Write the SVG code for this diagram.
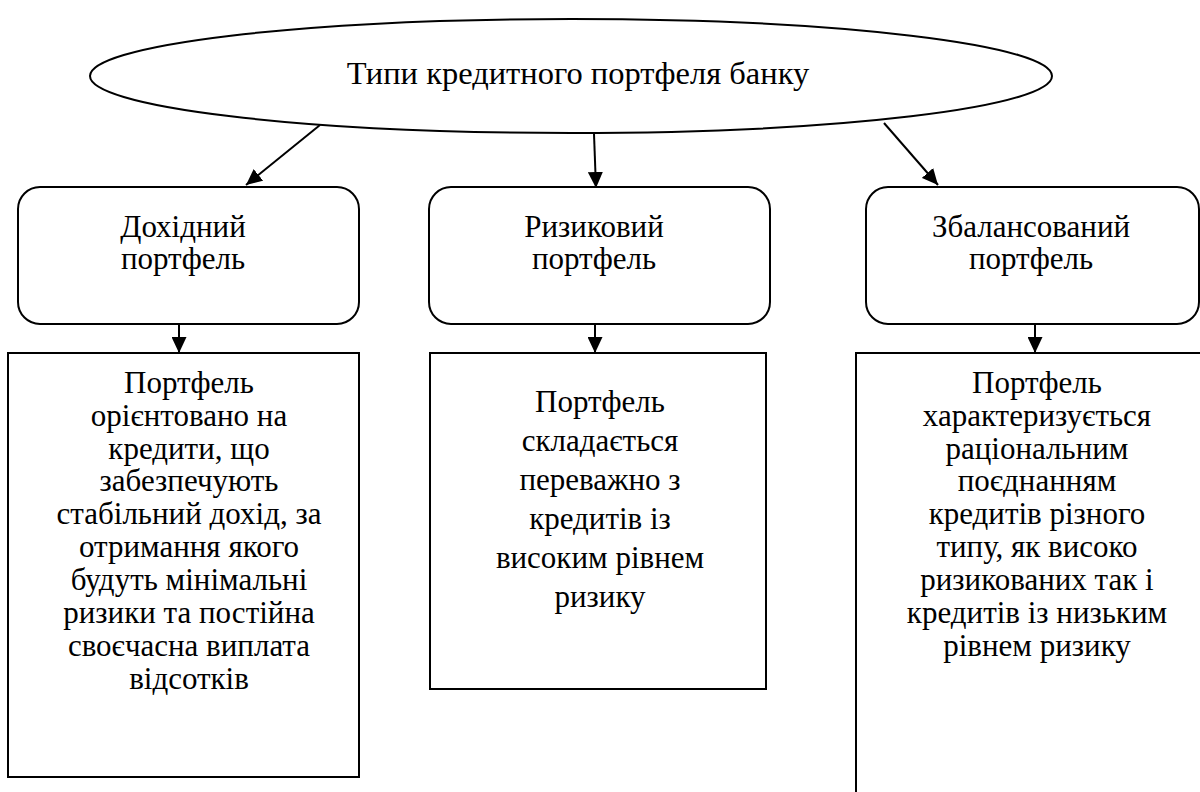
<svg xmlns="http://www.w3.org/2000/svg" width="1200" height="792" viewBox="0 0 1200 792" font-family="Liberation Serif, serif">
<defs>
<style>
.shape{fill:#fff;stroke:#000;stroke-width:2}
.t{font-size:31px;fill:#000;text-anchor:middle}
.title{font-size:32.5px}
.c{stroke:#000;stroke-width:2;fill:none;marker-end:url(#ah)}
</style>
<marker id="ah" markerWidth="16" markerHeight="15" refX="16" refY="7.5" orient="auto" markerUnits="userSpaceOnUse">
<path d="M0,0 L16,7.5 L0,15 Z" fill="#000"/>
</marker>
</defs>
<rect width="1200" height="792" fill="#fff"/>
<g id="connectors">
<line class="c" x1="320" y1="125" x2="246" y2="185"/>
<line class="c" x1="594" y1="134" x2="596" y2="188"/>
<line class="c" x1="884" y1="123" x2="938" y2="185"/>
<line class="c" x1="179" y1="324" x2="179" y2="353"/>
<line class="c" x1="595" y1="324" x2="595" y2="353"/>
<line class="c" x1="1035" y1="324" x2="1035" y2="353"/>
</g>
<g id="root">
<ellipse class="shape" cx="571" cy="76" rx="481" ry="57"/>
<text class="t title" x="578" y="84">Типи кредитного портфеля банку</text>
</g>
<g id="type1">
<rect class="shape" x="18" y="187" width="341" height="137" rx="22"/>
<text class="t" x="183" y="237">Дохідний</text>
<text class="t" x="183" y="269">портфель</text>
</g>
<g id="type2">
<rect class="shape" x="429" y="187" width="341" height="137" rx="22"/>
<text class="t" x="594" y="237">Ризиковий</text>
<text class="t" x="594" y="269">портфель</text>
</g>
<g id="type3">
<rect class="shape" x="866" y="187" width="333" height="137" rx="22"/>
<text class="t" x="1031" y="237">Збалансований</text>
<text class="t" x="1031" y="269">портфель</text>
</g>
<g id="desc1">
<rect class="shape" x="8" y="353" width="351" height="424"/>
<text class="t" x="189" y="393">Портфель</text>
<text class="t" x="189" y="426">орієнтовано на</text>
<text class="t" x="189" y="459">кредити, що</text>
<text class="t" x="189" y="491">забезпечують</text>
<text class="t" x="189" y="524">стабільний дохід, за</text>
<text class="t" x="189" y="557">отримання якого</text>
<text class="t" x="189" y="590">будуть мінімальні</text>
<text class="t" x="189" y="623">ризики та постійна</text>
<text class="t" x="189" y="656">своєчасна виплата</text>
<text class="t" x="189" y="689">відсотків</text>
</g>
<g id="desc2">
<rect class="shape" x="430" y="353" width="336" height="336"/>
<text class="t" x="600" y="412">Портфель</text>
<text class="t" x="600" y="451">складається</text>
<text class="t" x="600" y="490">переважно з</text>
<text class="t" x="600" y="529">кредитів із</text>
<text class="t" x="600" y="568">високим рівнем</text>
<text class="t" x="600" y="607">ризику</text>
</g>
<g id="desc3">
<rect class="shape" x="856" y="353" width="360" height="460"/>
<text class="t" x="1037" y="393">Портфель</text>
<text class="t" x="1037" y="426">характеризується</text>
<text class="t" x="1037" y="459">раціональним</text>
<text class="t" x="1037" y="491">поєднанням</text>
<text class="t" x="1037" y="524">кредитів різного</text>
<text class="t" x="1037" y="557">типу, як високо</text>
<text class="t" x="1037" y="590">ризикованих так і</text>
<text class="t" x="1037" y="623">кредитів із низьким</text>
<text class="t" x="1037" y="656">рівнем ризику</text>
</g>
</svg>
